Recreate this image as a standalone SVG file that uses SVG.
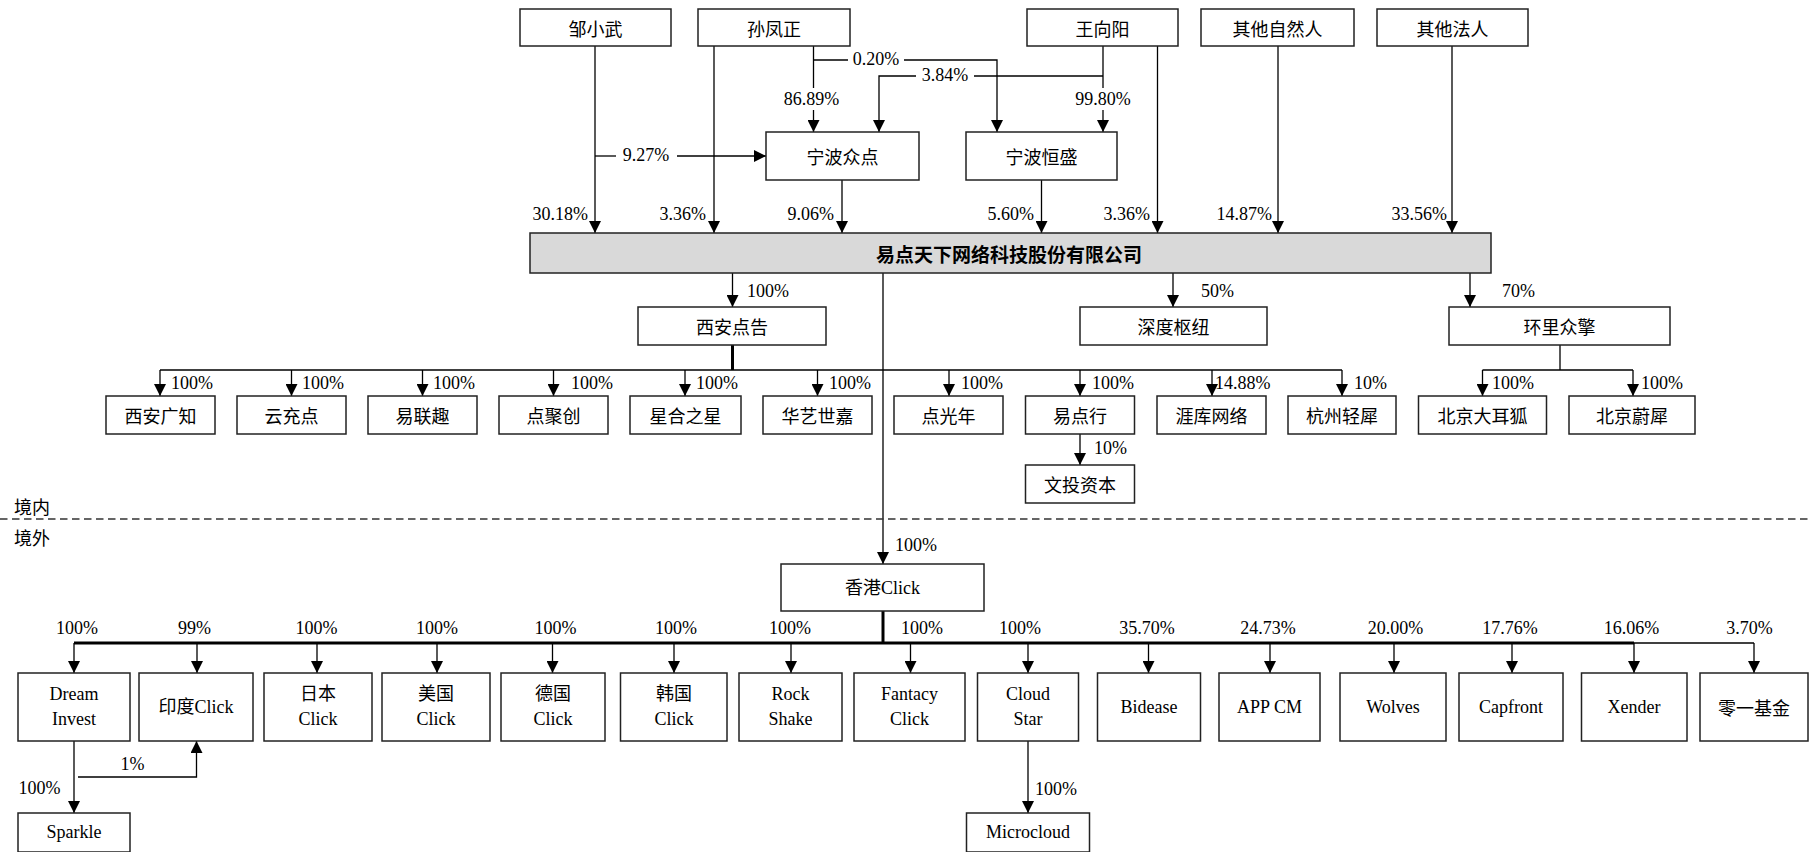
<svg xmlns="http://www.w3.org/2000/svg" width="1811" height="852" viewBox="0 0 1811 852">
<defs>
<marker id="ah" markerUnits="userSpaceOnUse" markerWidth="12" markerHeight="12" refX="12" refY="6" orient="auto">
<path d="M0,0 L12,6 L0,12 z" fill="#000"/>
</marker>
<style>
.b{fill:#fff;stroke:#222;stroke-width:1.5}
.bar{fill:#d9d9d9;stroke:#222;stroke-width:1.5}
.t{font-family:"Liberation Serif","Noto Sans CJK SC",serif;font-size:18px;fill:#000;text-anchor:middle;dominant-baseline:central}
.cn{font-family:"Noto Sans CJK SC",sans-serif;font-size:18px;fill:#000;text-anchor:middle;dominant-baseline:central}
.bt{font-family:"Noto Sans CJK SC",sans-serif;font-size:19px;font-weight:bold;fill:#000;text-anchor:middle;dominant-baseline:central}
.l{font-family:"Liberation Serif",serif;font-size:18px;fill:#000;dominant-baseline:central}
.s{text-anchor:start}.e{text-anchor:end}.m{text-anchor:middle}
.c{fill:none;stroke:#000;stroke-width:1.3}
.a{fill:none;stroke:#000;stroke-width:1.3;marker-end:url(#ah)}
.k{fill:none;stroke:#000;stroke-width:3}
.d{fill:none;stroke:#333;stroke-width:1.3;stroke-dasharray:7.5,4.5}
</style>
</defs>
<rect width="1811" height="852" fill="#fff"/>

<g id="connectors">
<path class="a" d="M595,46 V233"/>
<path class="c" d="M595,156 H616"/><path class="a" d="M677,156 H766"/>
<path class="a" d="M714,46 V233"/>
<path class="c" d="M813.5,46 V88"/><path class="a" d="M813.5,110 V132"/>
<path class="c" d="M813.5,60 H848"/><path class="a" d="M904,60 H997 V132"/>
<path class="c" d="M1103,46 V88"/><path class="a" d="M1103,110 V132"/>
<path class="c" d="M1103,76 H974"/><path class="a" d="M916,76 H879 V132"/>
<path class="a" d="M842,180 V233"/>
<path class="a" d="M1041.5,180 V233"/>
<path class="a" d="M1157.5,46 V233"/>
<path class="a" d="M1278,46 V233"/>
<path class="a" d="M1452,46 V233"/>
<path class="a" d="M732.5,273 V307"/>
<path class="a" d="M1173,273 V307"/>
<path class="a" d="M1470,273 V307"/>
<path class="k" d="M732.5,345 V370"/>
<path class="c" d="M160,370 H1342"/>
<path class="a" d="M160,370 V396"/>
<path class="a" d="M291.5,370 V396"/>
<path class="a" d="M422.5,370 V396"/>
<path class="a" d="M553.5,370 V396"/>
<path class="a" d="M685,370 V396"/>
<path class="a" d="M817.5,370 V396"/>
<path class="a" d="M949,370 V396"/>
<path class="a" d="M1080,370 V396"/>
<path class="a" d="M1212,370 V396"/>
<path class="a" d="M1342,370 V396"/>
<path class="a" d="M1080,434 V465"/>
<path class="c" d="M1560,345 V370 M1482.5,370 H1633"/>
<path class="a" d="M1482.5,370 V396"/>
<path class="a" d="M1633,370 V396"/>
<path class="a" d="M883,273 V564"/>
<path class="k" d="M883,611 V643"/>
<path class="k" d="M74,643 H1634"/>
<path class="c" d="M1634,643 H1754"/>
<path class="a" d="M74,643 V673"/>
<path class="a" d="M197,643 V673"/>
<path class="a" d="M317,643 V673"/>
<path class="a" d="M437,643 V673"/>
<path class="a" d="M552.5,643 V673"/>
<path class="a" d="M674,643 V673"/>
<path class="a" d="M791,643 V673"/>
<path class="a" d="M910.5,643 V673"/>
<path class="a" d="M1028,643 V673"/>
<path class="a" d="M1148.5,643 V673"/>
<path class="a" d="M1270,643 V673"/>
<path class="a" d="M1394,643 V673"/>
<path class="a" d="M1512,643 V673"/>
<path class="a" d="M1634,643 V673"/>
<path class="a" d="M1754,643 V673"/>
<path class="a" d="M74,741 V813"/>
<path class="a" d="M78,777 H196.5 V741"/>
<path class="a" d="M1028,741 V813"/>
<path class="d" d="M0,519 H1811"/>
</g>

<g id="labels">
<text class="l e" x="588" y="214">30.18%</text>
<text class="l m" x="646" y="155">9.27%</text>
<text class="l e" x="706" y="214">3.36%</text>
<text class="l m" x="811.5" y="99">86.89%</text>
<text class="l m" x="876" y="59">0.20%</text>
<text class="l m" x="945" y="75">3.84%</text>
<text class="l m" x="1103" y="99">99.80%</text>
<text class="l e" x="834" y="214">9.06%</text>
<text class="l e" x="1034" y="214">5.60%</text>
<text class="l e" x="1150" y="214">3.36%</text>
<text class="l e" x="1272" y="214">14.87%</text>
<text class="l e" x="1447" y="214">33.56%</text>
<text class="l s" x="747" y="291">100%</text>
<text class="l s" x="1201" y="291">50%</text>
<text class="l s" x="1502" y="291">70%</text>
<text class="l s" x="171" y="383">100%</text>
<text class="l s" x="302" y="383">100%</text>
<text class="l s" x="433" y="383">100%</text>
<text class="l s" x="571" y="383">100%</text>
<text class="l s" x="696" y="383">100%</text>
<text class="l s" x="829" y="383">100%</text>
<text class="l s" x="961" y="383">100%</text>
<text class="l s" x="1092" y="383">100%</text>
<text class="l s" x="1215" y="383">14.88%</text>
<text class="l s" x="1354" y="383">10%</text>
<text class="l s" x="1094" y="448">10%</text>
<text class="l s" x="1492" y="383">100%</text>
<text class="l s" x="1641" y="383">100%</text>
<text class="cn s" x="14" y="506">境内</text>
<text class="cn s" x="14" y="537">境外</text>
<text class="l s" x="895" y="545">100%</text>
<text class="l m" x="77" y="628">100%</text>
<text class="l m" x="194.5" y="628">99%</text>
<text class="l m" x="316.5" y="628">100%</text>
<text class="l m" x="437" y="628">100%</text>
<text class="l m" x="555.5" y="628">100%</text>
<text class="l m" x="676" y="628">100%</text>
<text class="l m" x="790" y="628">100%</text>
<text class="l m" x="922" y="628">100%</text>
<text class="l m" x="1020" y="628">100%</text>
<text class="l m" x="1147" y="628">35.70%</text>
<text class="l m" x="1268" y="628">24.73%</text>
<text class="l m" x="1395.5" y="628">20.00%</text>
<text class="l m" x="1510" y="628">17.76%</text>
<text class="l m" x="1631.5" y="628">16.06%</text>
<text class="l m" x="1749.5" y="628">3.70%</text>
<text class="l m" x="132.5" y="764">1%</text>
<text class="l m" x="39.5" y="788">100%</text>
<text class="l s" x="1035" y="789">100%</text>
</g>

<g id="n-zou"><rect class="b" x="520" y="9" width="151" height="37"/><text class="cn" x="595.5" y="27.5">邹小武</text></g>
<g id="n-sun"><rect class="b" x="698" y="9" width="152" height="37"/><text class="cn" x="774" y="27.5">孙凤正</text></g>
<g id="n-wang"><rect class="b" x="1027" y="9" width="151" height="37"/><text class="cn" x="1102.5" y="27.5">王向阳</text></g>
<g id="n-qtzr"><rect class="b" x="1201" y="9" width="153" height="37"/><text class="cn" x="1277.5" y="27.5">其他自然人</text></g>
<g id="n-qtfr"><rect class="b" x="1377" y="9" width="151" height="37"/><text class="cn" x="1452.5" y="27.5">其他法人</text></g>
<g id="n-nbzd"><rect class="b" x="766" y="132" width="153" height="48"/><text class="cn" x="842.5" y="156">宁波众点</text></g>
<g id="n-nbhs"><rect class="b" x="966" y="132" width="151" height="48"/><text class="cn" x="1041.5" y="156">宁波恒盛</text></g>
<g id="n-main"><rect class="bar" x="530" y="233" width="961" height="40"/><text class="bt" x="1009" y="253">易点天下网络科技股份有限公司</text></g>

<g id="n-xadg"><rect class="b" x="638" y="307" width="188" height="38"/><text class="cn" x="732" y="326">西安点告</text></g>
<g id="n-sdsn"><rect class="b" x="1080" y="307" width="187" height="38"/><text class="cn" x="1173.5" y="326">深度枢纽</text></g>
<g id="n-hlzq"><rect class="b" x="1449" y="307" width="221" height="38"/><text class="cn" x="1559.5" y="326">环里众擎</text></g>

<g id="n-xagz"><rect class="b" x="106" y="396" width="109" height="38"/><text class="cn" x="160.5" y="415">西安广知</text></g>
<g id="n-ycd"><rect class="b" x="237" y="396" width="109" height="38"/><text class="cn" x="291.5" y="415">云充点</text></g>
<g id="n-ylq"><rect class="b" x="368" y="396" width="109" height="38"/><text class="cn" x="422.5" y="415">易联趣</text></g>
<g id="n-djc"><rect class="b" x="499" y="396" width="109" height="38"/><text class="cn" x="553.5" y="415">点聚创</text></g>
<g id="n-xhzx"><rect class="b" x="630" y="396" width="111" height="38"/><text class="cn" x="685.5" y="415">星合之星</text></g>
<g id="n-hysj"><rect class="b" x="763" y="396" width="109" height="38"/><text class="cn" x="817.5" y="415">华艺世嘉</text></g>
<g id="n-dgn"><rect class="b" x="894" y="396" width="109" height="38"/><text class="cn" x="948.5" y="415">点光年</text></g>
<g id="n-ydx"><rect class="b" x="1025.5" y="396" width="109" height="38"/><text class="cn" x="1080" y="415">易点行</text></g>
<g id="n-ykwl"><rect class="b" x="1157" y="396" width="109" height="38"/><text class="cn" x="1211.5" y="415">涯库网络</text></g>
<g id="n-hzqx"><rect class="b" x="1288" y="396" width="108" height="38"/><text class="cn" x="1342" y="415">杭州轻犀</text></g>
<g id="n-wtzb"><rect class="b" x="1025.5" y="465" width="109" height="38"/><text class="cn" x="1080" y="484">文投资本</text></g>
<g id="n-bjdeh"><rect class="b" x="1418.5" y="396" width="128" height="38"/><text class="cn" x="1482.5" y="415">北京大耳狐</text></g>
<g id="n-bjwx"><rect class="b" x="1569" y="396" width="126" height="38"/><text class="cn" x="1632" y="415">北京蔚犀</text></g>

<g id="n-hk"><rect class="b" x="781" y="564" width="203" height="47"/><text class="t" x="882.5" y="587.5">香港Click</text></g>

<g id="n-dream"><rect class="b" x="18" y="673" width="112" height="68"/><text class="t" x="74" y="694">Dream</text><text class="t" x="74" y="719">Invest</text></g>
<g id="n-india"><rect class="b" x="139" y="673" width="114" height="68"/><text class="t" x="196" y="707">印度Click</text></g>
<g id="n-jp"><rect class="b" x="264" y="673" width="108" height="68"/><text class="t" x="318" y="694">日本</text><text class="t" x="318" y="719">Click</text></g>
<g id="n-us"><rect class="b" x="382" y="673" width="108" height="68"/><text class="t" x="436" y="694">美国</text><text class="t" x="436" y="719">Click</text></g>
<g id="n-de"><rect class="b" x="501" y="673" width="104" height="68"/><text class="t" x="553" y="694">德国</text><text class="t" x="553" y="719">Click</text></g>
<g id="n-kr"><rect class="b" x="620.5" y="673" width="106.5" height="68"/><text class="t" x="674" y="694">韩国</text><text class="t" x="674" y="719">Click</text></g>
<g id="n-rock"><rect class="b" x="739" y="673" width="103" height="68"/><text class="t" x="790.5" y="694">Rock</text><text class="t" x="790.5" y="719">Shake</text></g>
<g id="n-fantacy"><rect class="b" x="854" y="673" width="111" height="68"/><text class="t" x="909.5" y="694">Fantacy</text><text class="t" x="909.5" y="719">Click</text></g>
<g id="n-cloud"><rect class="b" x="977.5" y="673" width="101" height="68"/><text class="t" x="1028" y="694">Cloud</text><text class="t" x="1028" y="719">Star</text></g>
<g id="n-bidease"><rect class="b" x="1097.5" y="673" width="103" height="68"/><text class="t" x="1149" y="707">Bidease</text></g>
<g id="n-appcm"><rect class="b" x="1219" y="673" width="101" height="68"/><text class="t" x="1269.5" y="707">APP CM</text></g>
<g id="n-wolves"><rect class="b" x="1340" y="673" width="106" height="68"/><text class="t" x="1393" y="707">Wolves</text></g>
<g id="n-capfront"><rect class="b" x="1459" y="673" width="104" height="68"/><text class="t" x="1511" y="707">Capfront</text></g>
<g id="n-xender"><rect class="b" x="1581.5" y="673" width="105.5" height="68"/><text class="t" x="1634" y="707">Xender</text></g>
<g id="n-lyjj"><rect class="b" x="1700" y="673" width="108" height="68"/><text class="cn" x="1754" y="707">零一基金</text></g>
<g id="n-sparkle"><rect class="b" x="18" y="813" width="112" height="39"/><text class="t" x="74" y="832">Sparkle</text></g>
<g id="n-micro"><rect class="b" x="966.5" y="813" width="123" height="39"/><text class="t" x="1028" y="832">Microcloud</text></g>
</svg>
